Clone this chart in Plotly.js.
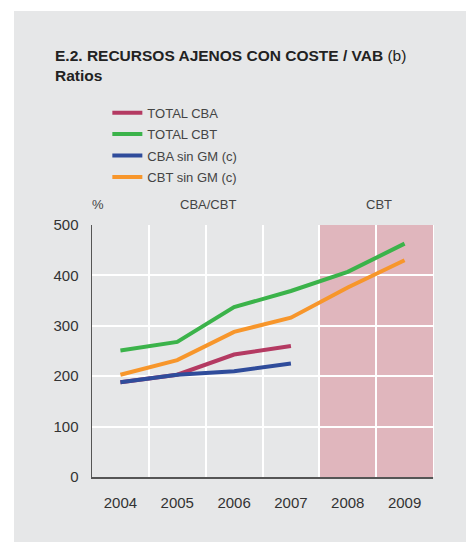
<!DOCTYPE html>
<html>
<head>
<meta charset="utf-8">
<script src="https://cdn.plot.ly/plotly-3.0.1.min.js"></script>
<style>
html,body{margin:0;padding:0;background:#ffffff;width:466px;height:542px;overflow:hidden;}
#chart{position:absolute;left:14px;top:11px;width:452px;height:531px;}
</style>
</head>
<body>
<div id="chart"></div>
<script>
const years = ['2004','2005','2006','2007','2008','2009'];
const totalCBA = [188, 203, 243, 260, null, null];
const totalCBT = [251, 268, 337, 369, 407, 463];
const cbaSinGM = [188, 203, 210, 225, null, null];
const cbtSinGM = [203, 232, 288, 316, 376, 430];
const seriesNames = ['TOTAL CBA', 'TOTAL CBT', 'CBA sin GM (c)', 'CBT sin GM (c)'];
const seriesColors = ['#b43a62', '#3bb34a', '#2f4c9b', '#f7962b'];
const yTicks = [0, 100, 200, 300, 400, 500];

const seriesData = [totalCBA, totalCBT, cbaSinGM, cbtSinGM];
const traces = seriesData.map((d, i) => ({
  x: years, y: d, type: 'scatter', mode: 'lines', name: seriesNames[i],
  line: {color: seriesColors[i], width: 4}, legendgroup: 'g' + i,
  connectgaps: false, hoverinfo: 'skip'
}));

const font = 'Liberation Sans, Arial, sans-serif';
const layout = {
  width: 452, height: 531,
  margin: {l: 78, r: 33, t: 214, b: 65},
  paper_bgcolor: '#e6e7e8',
  plot_bgcolor: '#e6e7e8',
  font: {family: font, color: '#333333'},
  title: {
    text: '<b>E.2. RECURSOS AJENOS CON COSTE / VAB</b> (b)<br><b>Ratios</b>',
    xref: 'container', yref: 'container', x: 41/452, xanchor: 'left',
    y: 1 - 50/531, yanchor: 'top',
    font: {family: font, size: 15.5, color: '#222222'}
  },
  showlegend: true,
  legend: {
    x: 0.045, xanchor: 'left', y: 1.505, yanchor: 'top',
    bgcolor: 'rgba(0,0,0,0)', font: {family: font, size: 13, color: '#444444'},
    tracegroupgap: 1.5, traceorder: 'grouped'
  },
  xaxis: {
    type: 'category', range: [-0.5, 5.5], tickson: 'boundaries',
    showgrid: true, gridcolor: '#ffffff', gridwidth: 2,
    showline: true, linecolor: '#555555', linewidth: 1.5,
    ticks: '', tickfont: {family: font, size: 15, color: '#333333'},
    ticklabelstandoff: 11, fixedrange: true
  },
  yaxis: {
    range: [0, 500], tickvals: yTicks, ticktext: yTicks.map(String),
    showgrid: true, gridcolor: '#ffffff', gridwidth: 2, zeroline: false,
    showline: true, linecolor: '#555555', linewidth: 1.5,
    ticks: '', tickfont: {family: font, size: 15, color: '#333333'},
    ticklabelstandoff: 9, fixedrange: true
  },
  shapes: [
    {type: 'rect', xref: 'x', yref: 'y', x0: 3.5, x1: 5.5, y0: 0, y1: 500,
     fillcolor: '#e0b6bd', line: {width: 0}, layer: 'below'},
    {type: 'line', xref: 'paper', yref: 'paper', x0: 1, x1: 1, y0: 0, y1: 1,
     line: {color: '#ffffff', width: 2}, layer: 'below'}
  ],
  annotations: [
    {text: '%', xref: 'paper', yref: 'paper', x: -0.005, xanchor: 'left', y: 1.08, yanchor: 'middle',
     showarrow: false, font: {family: font, size: 13, color: '#444444'}},
    {text: 'CBA/CBT', xref: 'paper', yref: 'paper', x: 0.34, xanchor: 'center', y: 1.08, yanchor: 'middle',
     showarrow: false, font: {family: font, size: 13, color: '#444444'}},
    {text: 'CBT', xref: 'paper', yref: 'paper', x: 0.842, xanchor: 'center', y: 1.08, yanchor: 'middle',
     showarrow: false, font: {family: font, size: 13, color: '#444444'}}
  ]
};

Plotly.newPlot('chart', traces, layout, {displayModeBar: false, staticPlot: true});
</script>
</body>
</html>
